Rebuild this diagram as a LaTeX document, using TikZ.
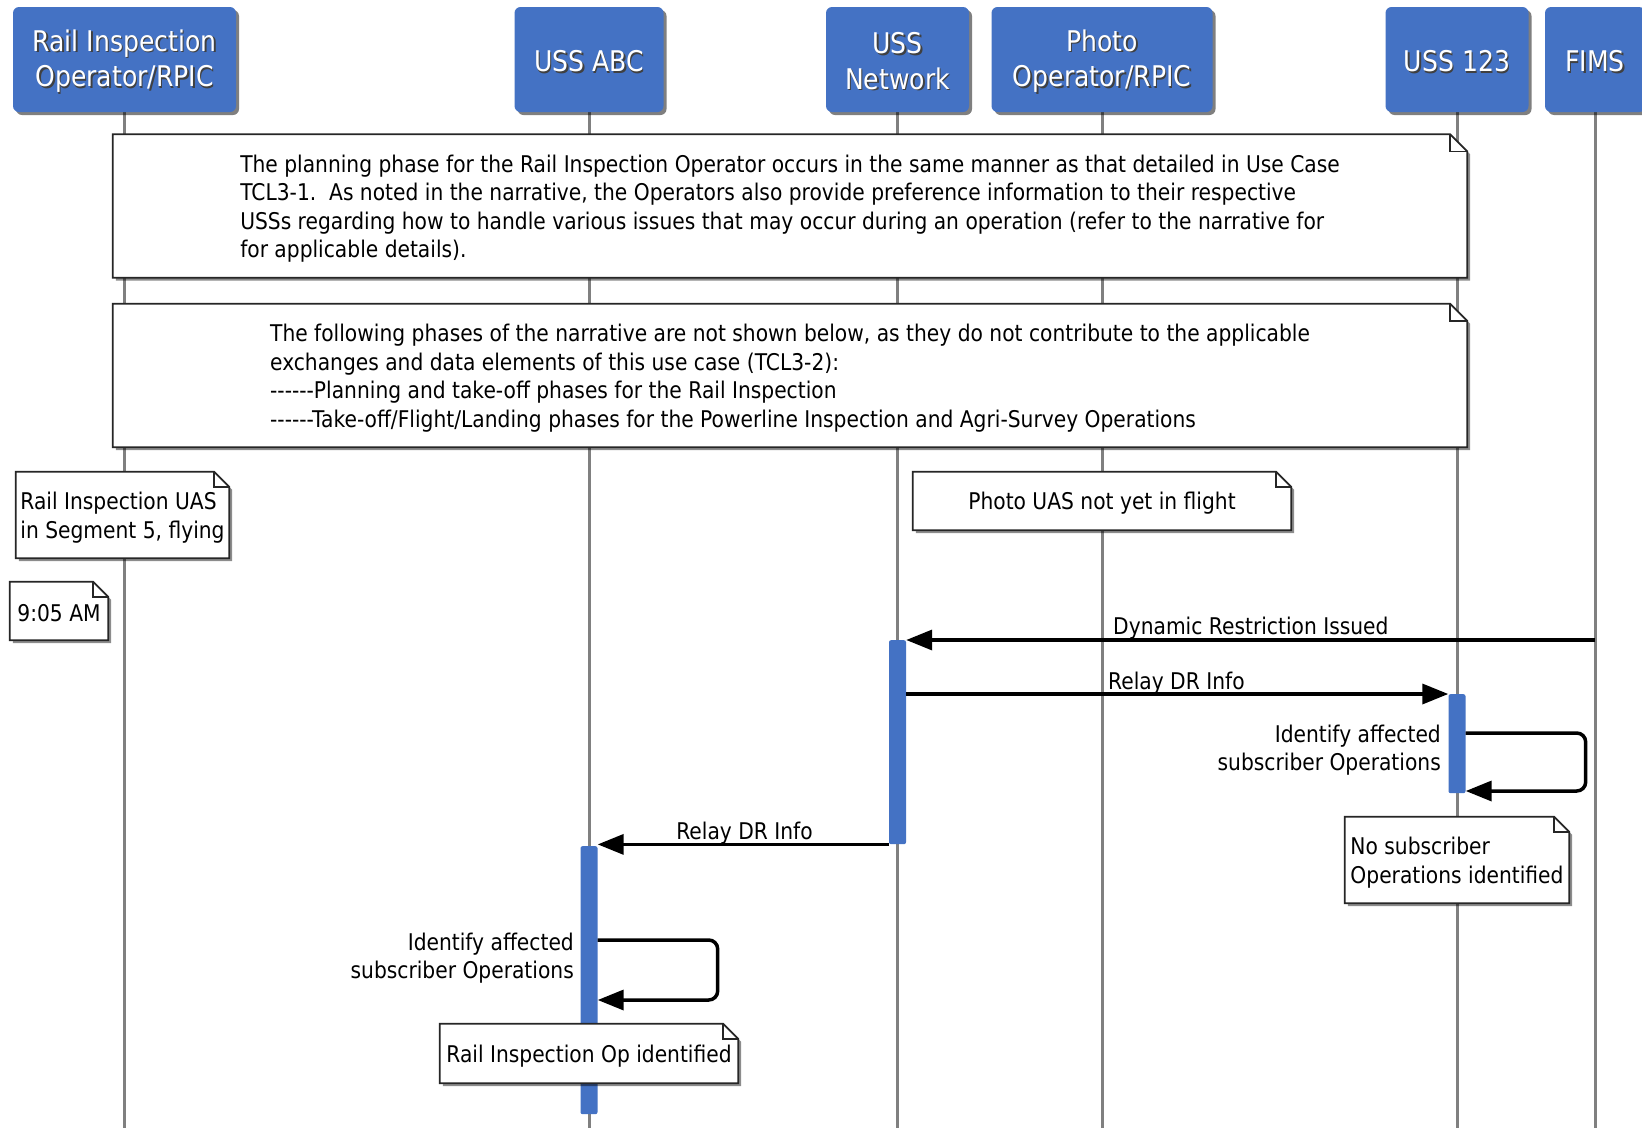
\documentclass[tikz,border=0pt]{standalone}
\usepackage{fontspec}
\setmainfont{DejaVu Sans}[FakeStretch=0.88, Ligatures=TeXOff]
\usetikzlibrary{arrows.meta,shadows,calc}

\definecolor{hdrblue}{HTML}{4472C4}
\definecolor{lifegray}{HTML}{808080}

\pgfdeclarelayer{paper}
\pgfdeclarelayer{lines}
\pgfdeclarelayer{frames}
\pgfsetlayers{paper,lines,frames,main}

% white header caption with a dark offset copy underneath
\newcommand\hdtext[1]{\raisebox{-2.5pt}[\height][\depth]{\rlap{\kern1.6pt\raisebox{-1.6pt}{\textcolor{black!75}{#1}}}\textcolor{white}{#1}}}

\tikzset{
  hdr/.style={rectangle, rounded corners=6pt, fill=hdrblue, minimum height=105,
    align=center, inner sep=0pt, font=\fontsize{28.5}{35.5}\selectfont,
    drop shadow={shadow xshift=3pt, shadow yshift=-3pt, opacity=0.5, fill=black}},
  life/.style={draw=lifegray, line width=3pt},
  actbar/.style={rectangle, fill=hdrblue, minimum width=17, inner sep=0pt, rounded corners=2pt},
  note/.style={rectangle, align=left, inner sep=0pt, yshift=-2.5pt},
  frame/.style={draw=black!85, line width=1.8pt, fill=white, line join=miter,
    drop shadow={shadow xshift=3pt, shadow yshift=-3pt, opacity=0.45, fill=black}},
  msg/.style={draw=black, line width=3.5pt, -{Triangle[length=26pt,width=20pt]}},
  selfmsg/.style={msg, rounded corners=9pt},
  lbl/.style={inner sep=0pt}
}

% dog-eared outline behind a note node (the text sits 2.5pt below the box centre)
\newcommand\noteframe[2][17]{%
  \begin{pgfonlayer}{frames}
    \path[frame] ([yshift=2.5pt]#2.north west) -- ([xshift=-#1pt,yshift=2.5pt]#2.north east)
      -- ([yshift=2.5pt-#1pt]#2.north east)
      -- ([yshift=2.5pt]#2.south east) -- ([yshift=2.5pt]#2.south west) -- cycle;
    \draw[black!85, line width=1.5pt] ([xshift=-#1pt,yshift=2.5pt]#2.north east) |- ([yshift=2.5pt-#1pt]#2.north east);
  \end{pgfonlayer}}

\begin{document}
\begin{tikzpicture}[x=1pt, y=-1pt, font=\fontsize{23}{28.5}\selectfont]
  \begin{pgfonlayer}{paper}
    \fill[white] (0,0) rectangle (1642,1128);
  \end{pgfonlayer}
  \useasboundingbox (0,0) rectangle (1642,1128);
  \coordinate (bottom) at (0,1128);

  % participants
  \node[hdr, minimum width=223] (rail)  at (124.5,59.5) {\hdtext{Rail Inspection}\\\hdtext{Operator/RPIC}};
  \node[hdr, minimum width=149] (abc)   at (589,59.5)   {\hdtext{USS ABC}};
  \node[hdr, minimum width=143] (net)   at (897.5,59.5) {\hdtext{USS}\\\hdtext{Network}};
  \node[hdr, minimum width=221] (photo) at (1102,59.5)  {\hdtext{Photo}\\\hdtext{Operator/RPIC}};
  \node[hdr, minimum width=143] (u123)  at (1457,59.5)  {\hdtext{USS 123}};
  \node[hdr, minimum width=100] (fims)  at (1595,59.5)  {\hdtext{FIMS}};

  % lifelines
  \begin{pgfonlayer}{lines}
    \foreach \p in {rail,abc,net,photo,u123,fims}
      \draw[life] (\p.south) -- (\p.south |- bottom);
  \end{pgfonlayer}

  % activation bars
  \begin{pgfonlayer}{lines}
    \node[actbar, minimum height=204, anchor=north] (actNet) at (897.5,640) {};
    \node[actbar, minimum height=99,  anchor=north] (act123) at (1457,694) {};
    \node[actbar, minimum height=268, anchor=north] (actABC) at (589,846) {};
  \end{pgfonlayer}

  % notes
  \node[note, minimum width=1354, minimum height=143] (plan) at (790,206)
    {The planning phase for the Rail Inspection Operator occurs in the same manner as that detailed in Use Case\\
     TCL3-1.\ \ As noted in the narrative, the Operators also provide preference information to their respective\\
     USSs regarding how to handle various issues that may occur during an operation (refer to the narrative for\\
     for applicable details).};
  \noteframe{plan}

  \node[note, minimum width=1354, minimum height=143] (skip) at (790,375.5)
    {The following phases of the narrative are not shown below, as they do not contribute to the applicable\\
     exchanges and data elements of this use case (TCL3-2):\\
     ------Planning and take-off phases for the Rail Inspection\\
     ------Take-off/Flight/Landing phases for the Powerline Inspection and Agri-Survey Operations};
  \noteframe{skip}

  \node[note, minimum width=213, minimum height=86] (uas) at (122.5,515)
    {Rail Inspection UAS\\in Segment 5, flying};
  \noteframe[15]{uas}

  \node[note, minimum width=98, minimum height=58] (time) at (59,611) {9:05 AM};
  \noteframe[15]{time}

  \node[note, minimum width=378, minimum height=58] (photoUAS) at (1102,501) {Photo UAS not yet in flight};
  \noteframe[15]{photoUAS}

  \node[note, minimum width=224, minimum height=86] (nosub) at (1457,860)
    {No subscriber\\Operations identified};
  \noteframe[15]{nosub}

  \node[note, minimum width=298, minimum height=59] (railop) at (589,1053.5)
    {Rail Inspection Op identified};
  \noteframe[15]{railop}

  % messages
  \draw[msg] (fims.south |- actNet.north) -- (actNet.north east);
  \node[lbl, anchor=base west] (lblDR) at (1113,634) {Dynamic Restriction Issued};

  \draw[msg] (actNet.east |- act123.north) -- (act123.north west);
  \node[lbl, anchor=base west] (lblRelayA) at (1108,689) {Relay DR Info};

  \draw[selfmsg] (act123.east |- 0,733) -- ++(120,0) -- ++(0,58) -- (act123.east |- 0,791);
  \node[lbl, anchor=east, align=right] (lblId123) at (1441,750)
    {Identify affected\\subscriber Operations};

  \draw[msg] (actNet.south west) -- (actNet.south west -| actABC.east);
  \node[lbl, anchor=base] (lblRelayB) at (744.5,839) {Relay DR Info};

  \draw[selfmsg] (actABC.east |- 0,940) -- ++(120,0) -- ++(0,60) -- (actABC.east |- 0,1000);
  \node[lbl, anchor=east, align=right] (lblIdABC) at (574,958)
    {Identify affected\\subscriber Operations};
\end{tikzpicture}
\end{document}
